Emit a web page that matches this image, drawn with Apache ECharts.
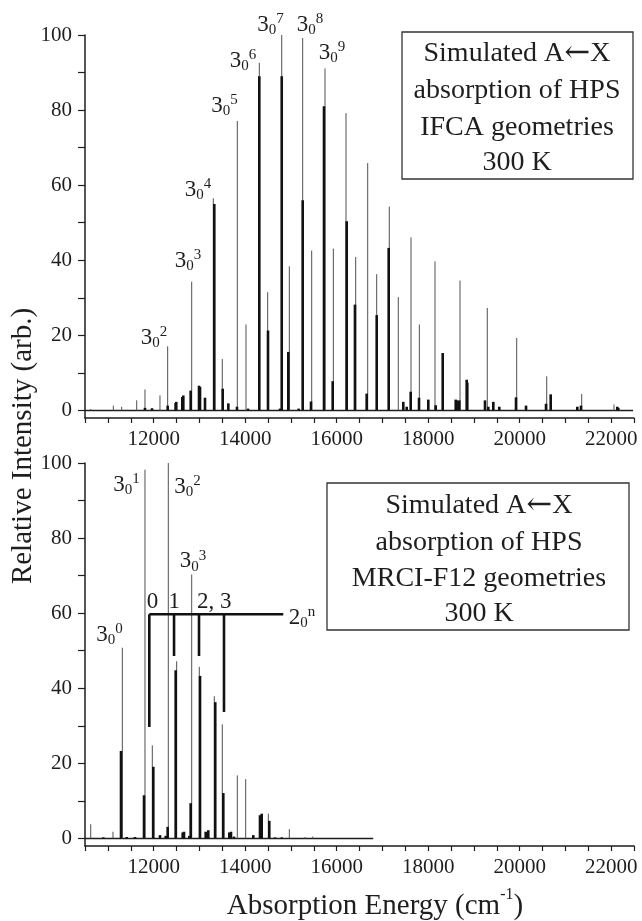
<!DOCTYPE html>
<html><head><meta charset="utf-8">
<script src="https://cdn.jsdelivr.net/npm/echarts@6/dist/echarts.min.js"></script>
<style>html,body{margin:0;padding:0;background:#fff}#c{width:642px;height:921px}</style>
</head><body><div id="c"></div>
<script>
// ---------- tick labels ----------
const xTickLabels = [12000, 14000, 16000, 18000, 20000, 22000];
const xTickValues = [10500,11000,11500,12000,12500,13000,13500,14000,14500,15000,15500,16000,16500,17000,17500,18000,18500,19000,19500,20000,20500,21000,21500,22000,22500];
const yTickLabels = [0, 20, 40, 60, 80, 100];
const yTickValues = [0,10,20,30,40,50,60,70,80,90,100];

// ---------- top panel (IFCA) sticks ----------
const topThinX = [10625,11119,11302,11630,11811,12139,12307,12832,13304,13501,13829,14019,14310,14493,14800,14966,15258,15455,15746,15928,16205,16417,16679,16876,17151,17348,17626,17808,18150,18697,19293,19936,20592,21357,22063];
const topThinY = [0.4,1.3,1.0,2.7,5.6,4.0,17.1,34.3,56.5,13.7,77.1,22.9,92.6,31.5,100,38.4,99.2,42.6,91.1,43.1,79.2,40.9,65.9,36.3,54.3,30.2,46.1,22.9,39.7,34.6,27.3,19.3,9.1,4.4,1.6];
const topThickX = [11811,11965,12307,12480,12495,12627,12649,12810,12992,13014,13123,13326,13510,13633,13822,14063,14310,14500,14763,14800,14944,15170,15258,15440,15724,15914,16220,16401,16657,16876,17138,17457,17532,17619,17801,18004,18166,18319,18603,18625,18682,18843,18856,19243,19315,19425,19556,19921,20140,20577,20679,21261,21341,22135,22157];
const topThickY = [0.7,0.6,1.3,2.0,2.3,3.6,4.0,5.3,6.6,6.3,3.4,55,5.8,1.9,1.0,0.5,89,21.3,0.5,89,15.6,0.5,56,2.4,81,7.8,50.4,28.2,4.5,25.4,43.3,2.3,1.0,5.0,3.4,2.9,1.4,15.3,2.9,2.7,2.7,8.2,7.4,2.7,1.0,2.3,1.0,3.5,1.3,1.8,4.3,1.0,1.3,1.0,0.7];
const topBaseX = [10500, 22480];

// ---------- bottom panel (MRCI-F12) sticks ----------
const botThinX = [10625,11112,11316,11811,11971,12321,12504,12832,12998,13326,13501,13829,14012,14507,14966,15309,15477];
const botThinY = [3.8,1.8,50.8,98.2,24.8,100,47.2,70.3,45.7,37.9,30.4,16.8,15.8,6.6,2.5,0.4,0.5];
const botThickX = [10900,11287,11411,11593,11790,11993,12139,12264,12307,12482,12635,12664,12780,12810,13014,13138,13195,13347,13523,13654,13691,13757,14179,14325,14362,14528,14653,14800];
const botThickY = [0.3,23.3,0.4,0.4,11.5,19.1,0.9,0.7,3.1,44.8,1.6,1.8,0.7,9.4,43.3,1.8,2.2,36.3,12.1,1.6,1.8,0.5,0.9,6.2,6.6,4.7,0.3,0.3];
const botBaseX = [10500, 16800];

// ---------- annotations ----------
const topLabelN = ['2','3','4','5','6','7','8','9'];
const topLabelX = [12008,12751,12970,13549,13954,14555,15418,15899];
const topLabelY = [19.4,39.9,58.8,81.1,93.1,102.7,102.7,95.2];
const botLabelN = ['0','1','2','3'];
const botLabelX = [11035,11407,12740,12861];
const botLabelY = [54.3,94.2,93.6,73.8];
const bracketX = [11906,12446,12992,13538];
const bracketLow = [29.7,48.6,48.6,33.7];
const bracketLevel = 59.7;
const bracketEnd = 14834;
const bracketText = ['0','1','2, 3'];
const bracketTextX = [11976,12450,13324];
const bracketTextY = 63.1;
const bracketNameX = 15243, bracketNameY = 58.8;
const boxTop = ['Simulated A{r|\u2190}X','absorption of HPS','IFCA geometries','300 K'];
const boxBot = ['Simulated A{r|\u2190}X','absorption of HPS','MRCI-F12 geometries','300 K'];

const FONT = '"Liberation Serif", "Times New Roman", serif';
const INK = '#1e1e1e';

const chart = echarts.init(document.getElementById('c'), null, {renderer:'canvas'});

function xAxisCfg(gi){
  return {type:'value', gridIndex:gi, min:10500, max:22500,
    axisLine:{show:true, onZero:false, lineStyle:{color:INK, width:1.5}},
    axisTick:{show:true, customValues:xTickValues, length:5, lineStyle:{color:INK, width:1.2}},
    axisLabel:{customValues:xTickLabels, formatter:v=>String(v), fontFamily:FONT, fontSize:21, color:INK, margin:11},
    splitLine:{show:false}};
}
function yAxisCfg(gi){
  return {type:'value', gridIndex:gi, min:-2, max:100,
    axisLine:{show:true, onZero:false, lineStyle:{color:INK, width:1.5}},
    axisTick:{show:true, customValues:yTickValues, length:7, lineStyle:{color:INK, width:1.2}},
    axisLabel:{customValues:yTickLabels, formatter:v=>String(v), fontFamily:FONT, fontSize:21, color:INK, margin:13},
    splitLine:{show:false}};
}
function sticks(gi, xs, ys, width, color, z){
  return {type:'custom', xAxisIndex:gi, yAxisIndex:gi, z:z, silent:true,
    data: xs.map((x,i)=>[x, ys[i]]),
    encode:{x:0, y:1},
    renderItem:(params, api)=>{
      const p0 = api.coord([api.value(0), 0]);
      const p1 = api.coord([api.value(0), api.value(1)]);
      return {type:'line', shape:{x1:p0[0], y1:p0[1], x2:p1[0], y2:p1[1]},
        style:{stroke:color, lineWidth:width}};
    }};
}
function baseline(gi, xs){
  return {type:'line', xAxisIndex:gi, yAxisIndex:gi, symbol:'none', silent:true, z:3,
    data: xs.map(x=>[x,0]), lineStyle:{color:INK, width:1.5}};
}
const rich = {
  m:{fontSize:23, lineHeight:26, verticalAlign:'middle', fontFamily:FONT, fill:INK},
  s:{fontSize:15, lineHeight:13, verticalAlign:'bottom', fontFamily:FONT, fill:INK},
  p:{fontSize:15, lineHeight:12, verticalAlign:'top', fontFamily:FONT, fill:INK}
};
function labels(gi, xs, ys, texts){
  return {type:'custom', xAxisIndex:gi, yAxisIndex:gi, z:8, silent:true,
    data: xs.map((x,i)=>[x, ys[i]]), encode:{x:0, y:1},
    renderItem:(params, api)=>{
      const p = api.coord([api.value(0), api.value(1)]);
      return {type:'text', x:p[0], y:p[1],
        style:{text:texts[params.dataIndex], rich:rich, fill:INK, fontFamily:FONT, fontSize:23,
          align:'center', verticalAlign:'middle', textAlign:'center', textVerticalAlign:'middle'}};
    }};
}

const series = [
  baseline(0, topBaseX),
  sticks(0, topThinX, topThinY, 1, '#505050', 4),
  sticks(0, topThickX, topThickY, 2.6, '#111', 5),
  labels(0, topLabelX, topLabelY, topLabelN.map(n=>'{m|3}{s|0}{p|'+n+'}')),
  baseline(1, botBaseX),
  sticks(1, botThinX, botThinY, 1, '#505050', 4),
  sticks(1, botThickX, botThickY, 2.6, '#111', 5),
  labels(1, botLabelX, botLabelY, botLabelN.map(n=>'{m|3}{s|0}{p|'+n+'}')),
  // 2_0^n bracket
  {type:'custom', xAxisIndex:1, yAxisIndex:1, z:7, silent:true,
    data: bracketX.map((x,i)=>[x, bracketLow[i]]), encode:{x:0,y:1},
    renderItem:(params, api)=>{
      const a = api.coord([api.value(0), bracketLevel]);
      const b = api.coord([api.value(0), api.value(1)]);
      return {type:'line', shape:{x1:a[0], y1:a[1], x2:b[0], y2:b[1]}, style:{stroke:'#111', lineWidth:2.6}};
    }},
  {type:'line', xAxisIndex:1, yAxisIndex:1, symbol:'none', silent:true, z:7,
    data:[[bracketX[0], bracketLevel],[bracketEnd, bracketLevel]], lineStyle:{color:'#111', width:2.6}},
  labels(1, bracketTextX.concat([bracketNameX]), [bracketTextY,bracketTextY,bracketTextY,bracketNameY],
    bracketText.map(t=>'{m|'+t+'}').concat(['{m|2}{s|0}{p|n}']))
];

function boxText(lines, cx, ys){
  return lines.map((t,i)=>({type:'text', x:cx, y:ys[i], z:10,
    style:{text:t, font:'28px '+FONT, fill:INK, textAlign:'center', textVerticalAlign:'middle', align:'center', verticalAlign:'middle',
      rich:{r:{fontFamily:'"DejaVu Serif"', fontSize:31, fill:INK}}}}));
}

chart.setOption({
  animation:false,
  backgroundColor:'#fff',
  grid:[
    {left:85, top:35, width:549, height:383},
    {left:85, top:463, width:549, height:383}
  ],
  xAxis:[xAxisCfg(0), xAxisCfg(1)],
  yAxis:[yAxisCfg(0), yAxisCfg(1)],
  series: series,
  graphic:[
    {type:'rect', z:9, shape:{x:402, y:32, width:231, height:147}, style:{fill:'none', stroke:'#333', lineWidth:1.3}},
    ...boxText(boxTop, 517, [54, 91, 128, 163]),
    {type:'rect', z:9, shape:{x:327, y:483, width:302, height:147}, style:{fill:'none', stroke:'#333', lineWidth:1.3}},
    ...boxText(boxBot, 479, [506, 543, 579, 614]),
    {type:'text', x:23, y:446, rotation:Math.PI/2, z:10,
      style:{text:'Relative Intensity (arb.)', font:'29px '+FONT, fill:INK, textAlign:'center', textVerticalAlign:'middle', align:'center', verticalAlign:'middle'}},
    {type:'text', x:375, y:904, z:10,
      style:{text:'{a|Absorption Energy (cm}{s|-1}{a|)}', fill:INK, textAlign:'center', textVerticalAlign:'middle', align:'center', verticalAlign:'middle',
        rich:{a:{fontSize:29, lineHeight:34, verticalAlign:'bottom', fontFamily:FONT, fill:INK},
              s:{fontSize:16, lineHeight:16, verticalAlign:'top', fontFamily:FONT, fill:INK}}}}
  ]
});
</script>
</body></html>
